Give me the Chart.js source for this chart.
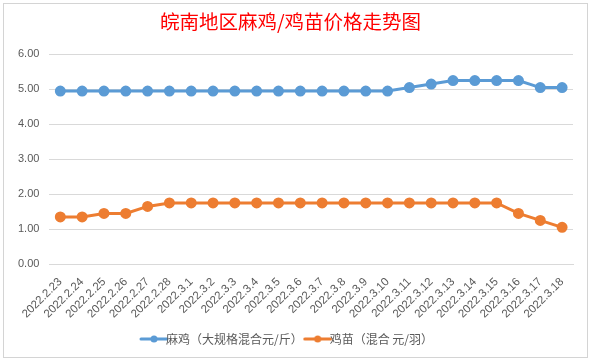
<!DOCTYPE html>
<html>
<head>
<meta charset="utf-8">
<script src="https://cdn.jsdelivr.net/npm/chart.js@4"></script>
<style>
  html, body { margin: 0; padding: 0; background: #fff; }
  body { width: 591px; height: 361px; position: relative; overflow: hidden; }
  .box { position: absolute; left: 3px; top: 3px; width: 583px; height: 353px; border: 1px solid #d4d4d4; background: #fff; }
</style>
</head>
<body>
<div class="box"><canvas id="myChart" width="583" height="353"></canvas></div>
<script>
const dates = ["2022.2.23", "2022.2.24", "2022.2.25", "2022.2.26", "2022.2.27", "2022.2.28",
  "2022.3.1", "2022.3.2", "2022.3.3", "2022.3.4", "2022.3.5", "2022.3.6", "2022.3.7", "2022.3.8",
  "2022.3.9", "2022.3.10", "2022.3.11", "2022.3.12", "2022.3.13", "2022.3.14", "2022.3.15",
  "2022.3.16", "2022.3.17", "2022.3.18"];
const maJi = [4.95, 4.95, 4.95, 4.95, 4.95, 4.95, 4.95, 4.95, 4.95, 4.95, 4.95, 4.95, 4.95, 4.95,
  4.95, 4.95, 5.05, 5.15, 5.25, 5.25, 5.25, 5.25, 5.05, 5.05];
const jiMiao = [1.35, 1.35, 1.45, 1.45, 1.65, 1.75, 1.75, 1.75, 1.75, 1.75, 1.75, 1.75, 1.75, 1.75,
  1.75, 1.75, 1.75, 1.75, 1.75, 1.75, 1.75, 1.45, 1.25, 1.05];
const yTicks = [0, 1, 2, 3, 4, 5, 6];

// legend marker: short line with a dot in the middle
function legendMark(color) {
  const c = document.createElement("canvas");
  c.width = 30; c.height = 10;
  const g = c.getContext("2d");
  g.strokeStyle = color; g.lineWidth = 3; g.lineCap = "round";
  g.beginPath(); g.moveTo(2, 5); g.lineTo(28, 5); g.stroke();
  g.fillStyle = color;
  g.beginPath(); g.arc(15, 5, 3.5, 0, Math.PI * 2); g.fill();
  return c;
}

const ctx = document.getElementById("myChart").getContext("2d");
const myChart = new Chart(ctx, {
  type: "line",
  data: {
    labels: dates,
    datasets: [
      {
        label: "麻鸡（大规格混合元/斤）",
        data: maJi,
        borderColor: "#5B9BD5",
        backgroundColor: "#5B9BD5",
        borderWidth: 3,
        pointRadius: 4,
        tension: 0,
      },
      {
        label: "鸡苗（混合 元/羽）",
        data: jiMiao,
        borderColor: "#ED7D31",
        backgroundColor: "#ED7D31",
        borderWidth: 3,
        pointRadius: 4,
        tension: 0,
      },
    ],
  },
  options: {
    responsive: false,
    animation: false,
    layout: { padding: { left: 4, right: 14, top: 0, bottom: 2 } },
    scales: {
      y: {
        min: 0,
        max: 6,
        afterBuildTicks: (axis) => { axis.ticks = yTicks.map(v => ({ value: v })); },
        ticks: {
          color: "#595959",
          font: { family: "Liberation Sans", size: 11 },
          padding: 10,
          callback: (v) => v.toFixed(2),
        },
        grid: { color: "#D9D9D9", drawTicks: false },
        border: { display: false },
      },
      x: {
        offset: true,
        ticks: {
          color: "#595959",
          font: { family: "Liberation Sans", size: 11.5 },
          minRotation: 45,
          maxRotation: 45,
          autoSkip: false,
          padding: 3,
        },
        grid: { display: false },
        border: { color: "#D9D9D9" },
      },
    },
    plugins: {
      title: {
        display: true,
        text: "皖南地区麻鸡/鸡苗价格走势图",
        color: "#FF0000",
        font: { family: "Noto Sans CJK SC", size: 19.5, weight: "normal" },
        padding: { top: 6, bottom: 21 },
      },
      legend: {
        position: "bottom",
        labels: {
          usePointStyle: true,
          color: "#595959",
          font: { family: "Noto Sans CJK SC", size: 12 },
          padding: 9,
          generateLabels: (chart) => chart.data.datasets.map((ds, i) => ({
            text: ds.label,
            pointStyle: legendMark(ds.borderColor),
            fontColor: "#595959",
            datasetIndex: i,
            lineWidth: 0,
          })),
        },
      },
      tooltip: { enabled: false },
    },
  },
});
</script>
</body>
</html>
